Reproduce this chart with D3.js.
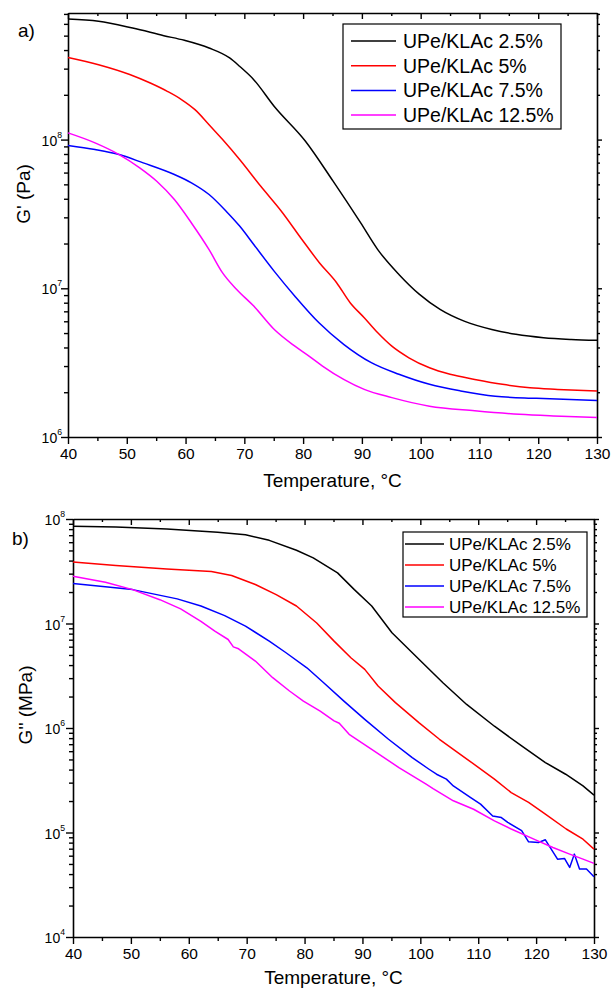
<!DOCTYPE html>
<html><head><meta charset="utf-8">
<script src="https://cdn.jsdelivr.net/npm/d3@7"></script>
<style>
body{margin:0;background:#fff}
svg{display:block}
text{font-family:"Liberation Sans",Arial,Helvetica,sans-serif;fill:#000}
</style>
</head><body>
<svg id="chart" width="611" height="990"></svg>
<script>
// ---------- shared ----------
const seriesNames = ["UPe/KLAc 2.5%", "UPe/KLAc 5%", "UPe/KLAc 7.5%", "UPe/KLAc 12.5%"];
const seriesColors = ["#000000", "#ff0000", "#0000ff", "#ff00ff"];
const xMajorTicks = [40, 50, 60, 70, 80, 90, 100, 110, 120, 130];
const xMinorTicks = [45, 55, 65, 75, 85, 95, 105, 115, 125];

// ---------- panel a: G' (Pa) ----------
const aTemp25 = [40,45.2,51,56.3,59.8,64,67.5,69.2,71.6,75.1,80.4,85.1,89.8,92.7,96.3,99.8,103.3,107.4,112.1,116.2,120.9,125.6,130];
const aG25 = [6.47e8,6.25e8,5.62e8,5.00e8,4.65e8,4.13e8,3.54e8,3.11e8,2.53e8,1.67e8,9.75e7,5.25e7,2.75e7,1.82e7,1.24e7,9.10e6,7.21e6,6.01e6,5.28e6,4.90e6,4.65e6,4.53e6,4.47e6];
const aTemp5 = [40,45.2,50.5,54,56.9,59.3,61.6,64,66.3,69.2,72.8,76.3,79.8,82.8,85.7,88,90.4,92.7,95.1,98,101.5,105,109.2,113.9,118.6,123.3,130];
const aG5 = [3.57e8,3.19e8,2.74e8,2.40e8,2.11e8,1.86e8,1.59e8,1.26e8,1.00e8,7.35e7,4.85e7,3.30e7,2.13e7,1.48e7,1.09e7,8.00e6,6.34e6,5.02e6,4.08e6,3.41e6,2.92e6,2.64e6,2.44e6,2.26e6,2.14e6,2.09e6,2.04e6];
const aTemp75 = [40,44.6,48.7,52.8,58.1,61,64,66.9,69.2,71.6,75.1,78.6,82.7,86.9,91.6,96.3,101.5,106.8,112.7,119.7,130];
const aG75 = [9.12e7,8.57e7,7.93e7,6.97e7,5.82e7,5.12e7,4.27e7,3.30e7,2.62e7,1.97e7,1.30e7,8.85e6,5.86e6,4.20e6,3.16e6,2.64e6,2.26e6,2.04e6,1.88e6,1.82e6,1.76e6];
const aTemp125 = [40,44.6,48.7,52.2,55.1,58.1,61,64,66.3,68.7,71.6,75.1,78.6,81,83.3,86.9,90.4,95.1,101.5,109.2,116.8,123.9,130];
const aG125 = [1.11e8,9.51e7,7.93e7,6.46e7,5.25e7,3.95e7,2.75e7,1.82e7,1.27e7,9.82e6,7.59e6,5.28e6,4.08e6,3.50e6,3.00e6,2.44e6,2.09e6,1.84e6,1.61e6,1.50e6,1.42e6,1.38e6,1.35e6];
const aYMajor = [1e6, 1e7, 1e8];
const aYExp = ["6", "7", "8"];

// ---------- panel b: G'' (MPa) ----------
const bTemp25 = [40,47.4,56.2,65,69.8,73.9,78.6,81.5,85.7,88.6,91.6,95.1,99.8,103.9,108,112.8,117.5,121.6,125.1,128.1,130];
const bG25 = [8.51e7,8.39e7,8.02e7,7.46e7,7.08e7,6.25e7,5.02e7,4.24e7,3.05e7,2.11e7,1.47e7,8.15e6,4.53e6,2.71e6,1.68e6,1.04e6,6.73e5,4.67e5,3.61e5,2.79e5,2.28e5];
const bTemp5 = [40,47.4,56.2,63.9,67.4,71.5,75.1,78.6,82.1,85.1,88,90.4,92.7,95.7,99.8,103.3,108.1,112.8,115.7,118.7,121.6,125.2,128.1,130];
const bG5 = [3.88e7,3.58e7,3.33e7,3.14e7,2.88e7,2.36e7,1.89e7,1.47e7,1.01e7,6.78e6,4.70e6,3.64e6,2.52e6,1.75e6,1.12e6,7.80e5,5.02e5,3.24e5,2.41e5,1.94e5,1.50e5,1.08e5,8.63e4,6.93e4];
const bTemp75 = [40,50.3,58,62.1,66.2,69.8,73.9,76.8,80.4,83.3,86.8,90.4,94.5,98.6,101.5,102.8,104.5,105.7,108.7,110.4,112.5,114,115.1,117.5,118.7,120.4,121.6,123.7,124.9,125.8,126.6,127.5,128.7,130];
const bG75 = [2.41e7,2.11e7,1.72e7,1.47e7,1.19e7,9.44e6,6.78e6,5.25e6,3.77e6,2.71e6,1.81e6,1.21e6,7.80e5,5.21e5,4.03e5,3.61e5,3.24e5,2.79e5,2.16e5,1.87e5,1.44e5,1.39e5,1.25e5,1.04e5,8.15e4,8.02e4,8.51e4,5.56e4,5.65e4,4.63e4,6.21e4,4.47e4,4.47e4,3.77e4];
const bTemp125 = [40,45.6,50.3,55,58.6,62.1,64.5,66.8,67.7,68.6,71.5,74.5,77.4,79.8,82.7,85.1,86,87.7,91.6,96.3,101,102.2,105.7,109.2,112.8,115.7,119.9,122.9,125.8,128.1,130];
const bG125 = [2.83e7,2.48e7,2.11e7,1.69e7,1.38e7,1.05e7,8.45e6,7.03e6,5.98e6,5.73e6,4.37e6,3.03e6,2.26e6,1.81e6,1.45e6,1.17e6,1.11e6,8.69e5,6.25e5,4.18e5,2.90e5,2.63e5,2.01e5,1.67e5,1.29e5,1.08e5,8.51e4,7.19e4,6.21e4,5.56e4,5.06e4];
const bYMajor = [1e4, 1e5, 1e6, 1e7, 1e8];
const bYExp = ["4", "5", "6", "7", "8"];

const svg = d3.select("#chart");

function minorTicks(lo, hi) {
  const out = [];
  for (let e = Math.floor(Math.log10(lo)); e <= Math.ceil(Math.log10(hi)); e++) {
    for (let m = 2; m <= 9; m++) {
      const v = m * Math.pow(10, e);
      if (v > lo && v < hi) out.push(v);
    }
  }
  return out;
}

function drawPanel(cfg) {
  const g = svg.append("g");
  const x = d3.scaleLinear().domain([40, 130]).range([cfg.left, cfg.right]);
  const y = d3.scaleLog().domain(cfg.yDomain).range([cfg.bottom, cfg.top]);

  const styleAxis = sel => {
    sel.select(".domain").attr("stroke", "#000").attr("stroke-width", 1.6);
    sel.selectAll(".tick line").attr("stroke", "#000").attr("stroke-width", 1.4);
  };

  // bottom x axis
  g.append("g").attr("transform", `translate(0,${cfg.bottom})`)
    .call(d3.axisBottom(x).tickValues(xMajorTicks).tickSizeInner(7).tickSizeOuter(0).tickPadding(4).tickFormat(d3.format("d")))
    .call(styleAxis)
    .call(s => s.selectAll("text").attr("font-size", cfg.tickFont).attr("font-family", "Liberation Sans, Arial, sans-serif").attr("fill", "#000"));
  g.append("g").attr("transform", `translate(0,${cfg.bottom})`)
    .call(d3.axisBottom(x).tickValues(xMinorTicks).tickSizeInner(4).tickSizeOuter(0).tickFormat(""))
    .call(styleAxis).call(s => s.select(".domain").remove());

  // top x axis (ticks inward)
  g.append("g").attr("transform", `translate(0,${cfg.top})`)
    .call(d3.axisBottom(x).tickValues(xMajorTicks).tickSizeInner(6).tickSizeOuter(0).tickFormat(""))
    .call(styleAxis);
  g.append("g").attr("transform", `translate(0,${cfg.top})`)
    .call(d3.axisBottom(x).tickValues(xMinorTicks).tickSizeInner(3).tickSizeOuter(0).tickFormat(""))
    .call(styleAxis).call(s => s.select(".domain").remove());

  const yMinor = minorTicks(cfg.yDomain[0], cfg.yDomain[1]);
  // left y axis
  g.append("g").attr("transform", `translate(${cfg.left},0)`)
    .call(d3.axisLeft(y).tickValues(cfg.yMajor).tickSizeInner(7).tickSizeOuter(0).tickFormat(""))
    .call(styleAxis);
  g.append("g").attr("transform", `translate(${cfg.left},0)`)
    .call(d3.axisLeft(y).tickValues(yMinor).tickSizeInner(4).tickSizeOuter(0).tickFormat(""))
    .call(styleAxis).call(s => s.select(".domain").remove());
  // right y axis
  g.append("g").attr("transform", `translate(${cfg.right},0)`)
    .call(d3.axisRight(y).tickValues(cfg.yMajor).tickSizeInner(5).tickSizeOuter(0).tickFormat(""))
    .call(styleAxis);
  g.append("g").attr("transform", `translate(${cfg.right},0)`)
    .call(d3.axisRight(y).tickValues(yMinor).tickSizeInner(3).tickSizeOuter(0).tickFormat(""))
    .call(styleAxis).call(s => s.select(".domain").remove());

  // y tick labels 10^n
  cfg.yMajor.forEach((v, i) => {
    const t = g.append("text").attr("x", cfg.left - cfg.yLabelGap).attr("y", y(v) + 6)
      .attr("text-anchor", "end").attr("font-size", cfg.yTickFont);
    t.append("tspan").text("10");
    t.append("tspan").attr("dy", -8).attr("font-size", cfg.yTickFont * 0.62).text(cfg.yExp[i]);
  });

  // curves
  const line = d3.line().x(d => x(d[0])).y(d => y(d[1])).curve(cfg.curve);
  cfg.series.forEach((s, i) => {
    const pts = s.t.map((tv, k) => [tv, s.g[k]]);
    g.append("path").datum(pts).attr("d", line)
      .attr("fill", "none").attr("stroke", seriesColors[i]).attr("stroke-width", 1.5)
      .attr("stroke-linejoin", "round");
  });

  // legend
  const L = cfg.legend;
  g.append("rect").attr("x", L.x).attr("y", L.y).attr("width", L.w).attr("height", L.h)
    .attr("fill", "#fff").attr("stroke", "#000").attr("stroke-width", 1.2);
  seriesNames.forEach((name, i) => {
    const ry = L.y + L.first + i * L.step;
    g.append("line").attr("x1", L.x + L.lx1).attr("x2", L.x + L.lx2).attr("y1", ry).attr("y2", ry)
      .attr("stroke", seriesColors[i]).attr("stroke-width", 1.5);
    g.append("text").attr("x", L.x + L.tx).attr("y", ry + L.font * 0.36).attr("font-size", L.font).text(name);
  });

  // axis titles
  g.append("text").attr("x", (cfg.left + cfg.right) / 2).attr("y", cfg.xTitleY)
    .attr("text-anchor", "middle").attr("font-size", cfg.titleFont).text("Temperature, \u00B0C");
  g.append("text").attr("transform", `translate(${cfg.yTitleX},${cfg.yTitleY}) rotate(-90)`)
    .attr("text-anchor", "middle").attr("font-size", cfg.titleFont).text(cfg.yTitle);
  g.append("text").attr("x", cfg.tagX).attr("y", cfg.tagY).attr("font-size", 19).text(cfg.tag);
}

drawPanel({
  left: 68, right: 597, top: 13, bottom: 437,
  yDomain: [1e6, 7.1e8], yMajor: aYMajor, yExp: aYExp,
  tickFont: 15.5, yTickFont: 14, yLabelGap: 6,
  curve: d3.curveMonotoneX,
  series: [{t: aTemp25, g: aG25}, {t: aTemp5, g: aG5}, {t: aTemp75, g: aG75}, {t: aTemp125, g: aG125}],
  legend: {x: 343, y: 24, w: 218, h: 105, first: 17, step: 24.7, lx1: 8, lx2: 53, tx: 60, font: 19.5},
  xTitleY: 487, yTitleX: 30, yTitleY: 194, yTitle: "G' (Pa)", titleFont: 19,
  tag: "a)", tagX: 18, tagY: 37
});

drawPanel({
  left: 73, right: 594, top: 519, bottom: 937,
  yDomain: [1e4, 1e8], yMajor: bYMajor, yExp: bYExp,
  tickFont: 15.5, yTickFont: 14, yLabelGap: 8,
  curve: d3.curveLinear,
  series: [{t: bTemp25, g: bG25}, {t: bTemp5, g: bG5}, {t: bTemp75, g: bG75}, {t: bTemp125, g: bG125}],
  legend: {x: 403, y: 532, w: 184, h: 85, first: 12, step: 21, lx1: 2, lx2: 41, tx: 46, font: 17},
  xTitleY: 984, yTitleX: 32, yTitleY: 705, yTitle: "G'' (MPa)", titleFont: 19,
  tag: "b)", tagX: 12, tagY: 545
});
</script>
</body></html>
